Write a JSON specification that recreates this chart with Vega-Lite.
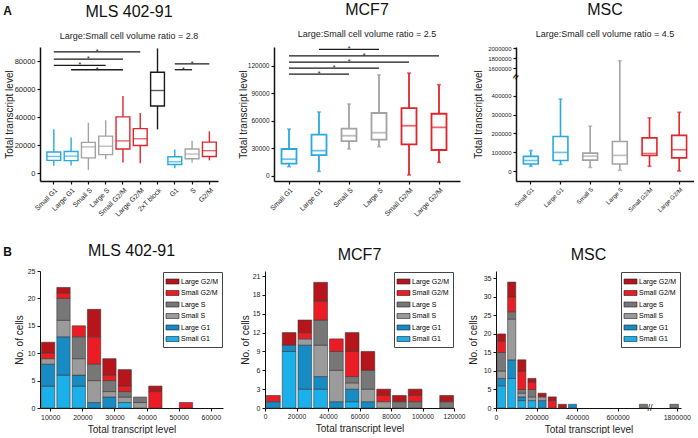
{
  "$schema": "https://vega.github.io/schema/vega-lite/v6.json",
  "padding": {"left": 3, "top": 2, "right": 0, "bottom": 0},
  "config": {
    "font": "Liberation Sans",
    "view": {"stroke": null},
    "axis": {"grid": false, "labelOverlap": false, "labelFlush": false, "labelSeparation": -60, "domainColor": "#111", "tickColor": "#111", "labelColor": "#222", "titleColor": "#222", "titleFontWeight": "normal", "labelFontSize": 7, "titleFontSize": 10, "tickSize": 3, "labelPadding": 2},
    "title": {"fontSize": 16, "fontWeight": "normal", "color": "#111", "subtitleFontSize": 9, "subtitleColor": "#222"},
    "bar": {"binSpacing": 2}
  },
  "datasets": {
    "box_mls": [
      {"cat": "Small G1", "phase": "G1", "min": 5300, "q1": 9200, "med": 12000, "q3": 15200, "max": 31300},
      {"cat": "Large G1", "phase": "G1", "min": 5500, "q1": 9000, "med": 12200, "q3": 15500, "max": 25500},
      {"cat": "Small S", "phase": "S", "min": 2400, "q1": 11000, "med": 18800, "q3": 22000, "max": 36000},
      {"cat": "Large S", "phase": "S", "min": 10000, "q1": 13300, "med": 19300, "q3": 26500, "max": 37800},
      {"cat": "Small G2/M", "phase": "G2/M", "min": 7700, "q1": 17300, "med": 23100, "q3": 40200, "max": 55000},
      {"cat": "Large  G2/M", "phase": "G2/M", "min": 7200, "q1": 19800, "med": 24600, "q3": 31800, "max": 42900},
      {"cat": "2xT block", "phase": "block", "min": 31300, "q1": 48000, "med": 59000, "q3": 72000, "max": 89000},
      {"cat": "G1", "phase": "G1", "min": 3600, "q1": 6300, "med": 8200, "q3": 11800, "max": 16900},
      {"cat": "S", "phase": "S", "min": 7700, "q1": 10400, "med": 13700, "q3": 17300, "max": 23100},
      {"cat": "G2/M", "phase": "G2/M", "min": 9200, "q1": 12000, "med": 16100, "q3": 22200, "max": 29900}
    ],
    "sig_mls": [
      {"from": "Small G1", "to": "Large  G2/M", "y": 86500, "star": "Small S", "half": true},
      {"from": "Small G1", "to": "Small G2/M", "y": 81400, "star": "Small S", "half": false},
      {"from": "Small G1", "to": "Large S", "y": 76900, "star": "Large G1", "half": true},
      {"from": "Large G1", "to": "Small G2/M", "y": 73800, "star": "Small S", "half": true},
      {"from": "G1", "to": "G2/M", "y": 78000, "star": "S", "half": false},
      {"from": "G1", "to": "S", "y": 73800, "star": "G1", "half": true}
    ],
    "box_mcf": [
      {"cat": "Small G1", "phase": "G1", "min": 9800, "q1": 13100, "med": 18000, "q3": 29100, "max": 50900},
      {"cat": "Large G1", "phase": "G1", "min": 4700, "q1": 22500, "med": 27300, "q3": 44700, "max": 69500},
      {"cat": "Small S", "phase": "S", "min": 29100, "q1": 37800, "med": 43600, "q3": 51300, "max": 78200},
      {"cat": "Large S", "phase": "S", "min": 31600, "q1": 39300, "med": 46900, "q3": 68400, "max": 110000},
      {"cat": "Small G2/M", "phase": "G2/M", "min": 700, "q1": 34200, "med": 54500, "q3": 73800, "max": 112000},
      {"cat": "Large G2/M", "phase": "G2/M", "min": 14500, "q1": 28000, "med": 52700, "q3": 67600, "max": 99300}
    ],
    "sig_mcf": [
      {"from": "Large G1", "to": "Large S", "y": 137700, "star": "Small S", "half": false},
      {"from": "Small G1", "to": "Large G2/M", "y": 130700, "star": "Small S", "half": true},
      {"from": "Small G1", "to": "Small G2/M", "y": 124000, "star": "Small S", "half": false},
      {"from": "Small G1", "to": "Large S", "y": 117400, "star": "Large G1", "half": true},
      {"from": "Small G1", "to": "Small S", "y": 110800, "star": "Large G1", "half": false}
    ],
    "box_msc": [
      {"cat": "Small G1", "phase": "G1", "min": 24700, "q1": 37000, "med": 56000, "q3": 77500, "max": 109000},
      {"cat": "Large G1", "phase": "G1", "min": 35000, "q1": 56000, "med": 98700, "q3": 183000, "max": 382000},
      {"cat": "Small S", "phase": "S", "min": 19000, "q1": 58000, "med": 79000, "q3": 95000, "max": 238000},
      {"cat": "Large S", "phase": "S", "min": 3500, "q1": 37000, "med": 83000, "q3": 157000, "max": 1750000},
      {"cat": "Small G2/M", "phase": "G2/M", "min": 25000, "q1": 82000, "med": 93000, "q3": 176000, "max": 282000},
      {"cat": "Large G2/M", "phase": "G2/M", "min": 0, "q1": 70000, "med": 113000, "q3": 189000, "max": 312000}
    ],
    "hist_mls": [
      {"b0": 6800, "b1": 11570, "cat": "Small G1", "n": 4},
      {"b0": 6800, "b1": 11570, "cat": "Large G1", "n": 4},
      {"b0": 6800, "b1": 11570, "cat": "Small S", "n": 1},
      {"b0": 6800, "b1": 11570, "cat": "Small G2/M", "n": 1},
      {"b0": 6800, "b1": 11570, "cat": "Large G2/M", "n": 2},
      {"b0": 11570, "b1": 16340, "cat": "Small G1", "n": 6},
      {"b0": 11570, "b1": 16340, "cat": "Large G1", "n": 7},
      {"b0": 11570, "b1": 16340, "cat": "Small S", "n": 3},
      {"b0": 11570, "b1": 16340, "cat": "Large S", "n": 4},
      {"b0": 11570, "b1": 16340, "cat": "Small G2/M", "n": 1},
      {"b0": 11570, "b1": 16340, "cat": "Large G2/M", "n": 1},
      {"b0": 16340, "b1": 21110, "cat": "Small G1", "n": 4},
      {"b0": 16340, "b1": 21110, "cat": "Large G1", "n": 2},
      {"b0": 16340, "b1": 21110, "cat": "Small S", "n": 3},
      {"b0": 16340, "b1": 21110, "cat": "Large S", "n": 4},
      {"b0": 16340, "b1": 21110, "cat": "Small G2/M", "n": 2},
      {"b0": 21110, "b1": 25880, "cat": "Large G1", "n": 1},
      {"b0": 21110, "b1": 25880, "cat": "Small S", "n": 4},
      {"b0": 21110, "b1": 25880, "cat": "Large S", "n": 3},
      {"b0": 21110, "b1": 25880, "cat": "Small G2/M", "n": 5},
      {"b0": 21110, "b1": 25880, "cat": "Large G2/M", "n": 5},
      {"b0": 25880, "b1": 30650, "cat": "Large G1", "n": 2},
      {"b0": 25880, "b1": 30650, "cat": "Small S", "n": 1},
      {"b0": 25880, "b1": 30650, "cat": "Large S", "n": 2},
      {"b0": 25880, "b1": 30650, "cat": "Small G2/M", "n": 1},
      {"b0": 25880, "b1": 30650, "cat": "Large G2/M", "n": 3},
      {"b0": 30650, "b1": 35420, "cat": "Small G1", "n": 1},
      {"b0": 30650, "b1": 35420, "cat": "Small S", "n": 1},
      {"b0": 30650, "b1": 35420, "cat": "Large S", "n": 1},
      {"b0": 30650, "b1": 35420, "cat": "Small G2/M", "n": 1},
      {"b0": 30650, "b1": 35420, "cat": "Large G2/M", "n": 3},
      {"b0": 35420, "b1": 40190, "cat": "Small S", "n": 1},
      {"b0": 35420, "b1": 40190, "cat": "Large S", "n": 1},
      {"b0": 40190, "b1": 44960, "cat": "Small G2/M", "n": 3},
      {"b0": 40190, "b1": 44960, "cat": "Large G2/M", "n": 1},
      {"b0": 49730, "b1": 54500, "cat": "Small G2/M", "n": 1}
    ],
    "hist_mcf": [
      {"b0": 0, "b1": 10000, "cat": "Large G1", "n": 1},
      {"b0": 0, "b1": 10000, "cat": "Small G2/M", "n": 1},
      {"b0": 10000, "b1": 20000, "cat": "Small G1", "n": 9},
      {"b0": 10000, "b1": 20000, "cat": "Large G1", "n": 1},
      {"b0": 10000, "b1": 20000, "cat": "Large G2/M", "n": 2},
      {"b0": 20000, "b1": 30000, "cat": "Small G1", "n": 3},
      {"b0": 20000, "b1": 30000, "cat": "Large G1", "n": 7},
      {"b0": 20000, "b1": 30000, "cat": "Small S", "n": 1},
      {"b0": 20000, "b1": 30000, "cat": "Small G2/M", "n": 1},
      {"b0": 20000, "b1": 30000, "cat": "Large G2/M", "n": 2},
      {"b0": 30000, "b1": 40000, "cat": "Small G1", "n": 3},
      {"b0": 30000, "b1": 40000, "cat": "Large G1", "n": 2},
      {"b0": 30000, "b1": 40000, "cat": "Small S", "n": 5},
      {"b0": 30000, "b1": 40000, "cat": "Large S", "n": 4},
      {"b0": 30000, "b1": 40000, "cat": "Small G2/M", "n": 3},
      {"b0": 30000, "b1": 40000, "cat": "Large G2/M", "n": 3},
      {"b0": 40000, "b1": 50000, "cat": "Large G1", "n": 1},
      {"b0": 40000, "b1": 50000, "cat": "Small S", "n": 5},
      {"b0": 40000, "b1": 50000, "cat": "Large S", "n": 3},
      {"b0": 40000, "b1": 50000, "cat": "Small G2/M", "n": 2},
      {"b0": 50000, "b1": 60000, "cat": "Small G1", "n": 1},
      {"b0": 50000, "b1": 60000, "cat": "Large G1", "n": 2},
      {"b0": 50000, "b1": 60000, "cat": "Small S", "n": 1},
      {"b0": 50000, "b1": 60000, "cat": "Large S", "n": 1},
      {"b0": 50000, "b1": 60000, "cat": "Small G2/M", "n": 4},
      {"b0": 50000, "b1": 60000, "cat": "Large G2/M", "n": 3},
      {"b0": 60000, "b1": 70000, "cat": "Large G1", "n": 1},
      {"b0": 60000, "b1": 70000, "cat": "Small S", "n": 2},
      {"b0": 60000, "b1": 70000, "cat": "Large S", "n": 3},
      {"b0": 60000, "b1": 70000, "cat": "Large G2/M", "n": 3},
      {"b0": 70000, "b1": 80000, "cat": "Small S", "n": 1},
      {"b0": 70000, "b1": 80000, "cat": "Small G2/M", "n": 1},
      {"b0": 70000, "b1": 80000, "cat": "Large G2/M", "n": 1},
      {"b0": 80000, "b1": 90000, "cat": "Large S", "n": 1},
      {"b0": 80000, "b1": 90000, "cat": "Large G2/M", "n": 1},
      {"b0": 90000, "b1": 100000, "cat": "Large S", "n": 1},
      {"b0": 90000, "b1": 100000, "cat": "Small G2/M", "n": 1},
      {"b0": 90000, "b1": 100000, "cat": "Large G2/M", "n": 1},
      {"b0": 110000, "b1": 120000, "cat": "Large S", "n": 1},
      {"b0": 110000, "b1": 120000, "cat": "Large G2/M", "n": 1}
    ],
    "hist_msc": [
      {"b0": 0, "b1": 50000, "cat": "Small G1", "n": 6},
      {"b0": 0, "b1": 50000, "cat": "Large G1", "n": 2},
      {"b0": 0, "b1": 50000, "cat": "Small S", "n": 2},
      {"b0": 0, "b1": 50000, "cat": "Large S", "n": 5},
      {"b0": 0, "b1": 50000, "cat": "Small G2/M", "n": 3},
      {"b0": 0, "b1": 50000, "cat": "Large G2/M", "n": 2},
      {"b0": 50000, "b1": 100000, "cat": "Small G1", "n": 8},
      {"b0": 50000, "b1": 100000, "cat": "Large G1", "n": 5},
      {"b0": 50000, "b1": 100000, "cat": "Small S", "n": 11},
      {"b0": 50000, "b1": 100000, "cat": "Large S", "n": 2},
      {"b0": 50000, "b1": 100000, "cat": "Small G2/M", "n": 4},
      {"b0": 50000, "b1": 100000, "cat": "Large G2/M", "n": 4},
      {"b0": 100000, "b1": 150000, "cat": "Small G1", "n": 2},
      {"b0": 100000, "b1": 150000, "cat": "Large G1", "n": 1},
      {"b0": 100000, "b1": 150000, "cat": "Small S", "n": 1},
      {"b0": 100000, "b1": 150000, "cat": "Large S", "n": 1},
      {"b0": 100000, "b1": 150000, "cat": "Small G2/M", "n": 5},
      {"b0": 100000, "b1": 150000, "cat": "Large G2/M", "n": 3},
      {"b0": 150000, "b1": 200000, "cat": "Small G1", "n": 2},
      {"b0": 150000, "b1": 200000, "cat": "Small S", "n": 1},
      {"b0": 150000, "b1": 200000, "cat": "Large S", "n": 2},
      {"b0": 150000, "b1": 200000, "cat": "Small G2/M", "n": 2},
      {"b0": 150000, "b1": 200000, "cat": "Large G2/M", "n": 1},
      {"b0": 200000, "b1": 250000, "cat": "Large G1", "n": 2},
      {"b0": 200000, "b1": 250000, "cat": "Small S", "n": 1},
      {"b0": 200000, "b1": 250000, "cat": "Large G2/M", "n": 1},
      {"b0": 250000, "b1": 300000, "cat": "Small G2/M", "n": 2},
      {"b0": 250000, "b1": 300000, "cat": "Large G2/M", "n": 1},
      {"b0": 300000, "b1": 350000, "cat": "Large G2/M", "n": 1},
      {"b0": 350000, "b1": 400000, "cat": "Large G1", "n": 1},
      {"b0": 700000, "b1": 750000, "cat": "Large S", "n": 1},
      {"b0": 1760000, "b1": 1810000, "cat": "Large S", "n": 1}
    ]
  },
  "vconcat": [
    {
      "title": {"text": "A", "orient": "left", "anchor": "end", "angle": 0, "align": "right", "baseline": "top", "fontSize": 12, "fontWeight": "bold", "offset": -16.7, "dy": 4, "frame": "bounds"},
      "bounds": "flush",
      "spacing": 56,
      "resolve": {"scale": {"x": "independent", "y": "independent", "color": "independent", "stroke": "independent"}},
      "hconcat": [
        {
          "width": 178, "height": 134,
          "title": {"text": "MLS 402-91", "subtitle": "Large:Small cell volume ratio = 2.8", "offset": 6, "subtitlePadding": 12},
          "layer": [
            {"data": {"name": "box_mls"}, "mark": {"type": "rule", "strokeWidth": 1.4},
             "encoding": {
               "x": {"field": "cat", "type": "nominal", "sort": null, "scale": {"domain": ["Small G1", "Large G1", "Small S", "Large S", "Small G2/M", "Large  G2/M", "2xT block", "G1", "S", "G2/M"], "paddingInner": 0, "paddingOuter": 0.15, "align": 1}, "axis": {"title": null, "labelAngle": -45, "labelFontSize": 7, "domainWidth": 1.5, "tickWidth": 1.2}},
               "y": {"field": "min", "type": "quantitative", "scale": {"domain": [-5500, 90000], "nice": false, "zero": false}, "axis": {"values": [0, 20000, 40000, 60000, 80000], "labelOverlap": false, "format": "d", "title": "Total transcript level", "titleX": -26, "labelFontSize": 7.5, "domainWidth": 1.5, "tickWidth": 1.2}},
               "y2": {"field": "max"},
               "color": {"field": "phase", "type": "nominal", "scale": {"domain": ["G1", "S", "G2/M", "block"], "range": ["#2aa9e0", "#a3a3a3", "#e1252d", "#1a1a1a"]}, "legend": null}
             }},
            {"data": {"name": "box_mls"}, "mark": {"type": "bar", "fill": "white", "strokeWidth": 1.4, "width": {"band": 0.8}},
             "encoding": {
               "x": {"field": "cat", "type": "nominal", "sort": null},
               "y": {"field": "q1", "type": "quantitative", "axis": {"values": [0, 20000, 40000, 60000, 80000], "labelOverlap": false, "format": "d", "title": "Total transcript level", "titleX": -26, "labelFontSize": 7.5, "domainWidth": 1.5, "tickWidth": 1.2}},
               "y2": {"field": "q3"},
               "stroke": {"field": "phase", "type": "nominal", "scale": {"domain": ["G1", "S", "G2/M", "block"], "range": ["#2aa9e0", "#a3a3a3", "#e1252d", "#1a1a1a"]}, "legend": null}
             }},
            {"data": {"name": "box_mls"}, "mark": {"type": "tick", "thickness": 1.4, "size": 14},
             "encoding": {
               "x": {"field": "cat", "type": "nominal", "sort": null},
               "y": {"field": "med", "type": "quantitative", "axis": {"values": [0, 20000, 40000, 60000, 80000], "labelOverlap": false, "format": "d", "title": "Total transcript level", "titleX": -26, "labelFontSize": 7.5, "domainWidth": 1.5, "tickWidth": 1.2}},
               "color": {"field": "phase", "type": "nominal", "legend": null}
             }},
            {"data": {"name": "sig_mls"}, "mark": {"type": "rule", "strokeWidth": 1.3, "color": "#1a1a1a"},
             "encoding": {
               "x": {"field": "from", "type": "nominal", "sort": null},
               "x2": {"field": "to"},
               "y": {"field": "y", "type": "quantitative", "axis": {"values": [0, 20000, 40000, 60000, 80000], "labelOverlap": false, "format": "d", "title": "Total transcript level", "titleX": -26, "labelFontSize": 7.5, "domainWidth": 1.5, "tickWidth": 1.2}}
             }},
            {"data": {"name": "sig_mls"}, "transform": [{"filter": "!datum.half"}], "mark": {"type": "text", "text": "*", "fontSize": 7, "baseline": "middle", "color": "#1a1a1a"},
             "encoding": {
               "x": {"field": "star", "type": "nominal", "sort": null},
               "y": {"field": "y", "type": "quantitative", "axis": {"values": [0, 20000, 40000, 60000, 80000], "labelOverlap": false, "format": "d", "title": "Total transcript level", "titleX": -26, "labelFontSize": 7.5, "domainWidth": 1.5, "tickWidth": 1.2}}
             }},
            {"data": {"name": "sig_mls"}, "transform": [{"filter": "datum.half"}], "mark": {"type": "text", "text": "*", "fontSize": 7, "baseline": "middle", "color": "#1a1a1a"},
             "encoding": {
               "x": {"field": "star", "type": "nominal", "sort": null, "bandPosition": 1},
               "y": {"field": "y", "type": "quantitative", "axis": {"values": [0, 20000, 40000, 60000, 80000], "labelOverlap": false, "format": "d", "title": "Total transcript level", "titleX": -26, "labelFontSize": 7.5, "domainWidth": 1.5, "tickWidth": 1.2}}
             }}
          ]
        },
        {
          "width": 186, "height": 134,
          "title": {"text": "MCF7", "subtitle": "Large:Small cell volume ratio = 2.5", "offset": 6, "subtitlePadding": 12},
          "layer": [
            {"data": {"name": "box_mcf"}, "mark": {"type": "rule", "strokeWidth": 1.8},
             "encoding": {
               "x": {"field": "cat", "type": "nominal", "sort": null, "scale": {"domain": ["Small G1", "Large G1", "Small S", "Large S", "Small G2/M", "Large G2/M"], "paddingInner": 0, "paddingOuter": 0.1, "align": 0}, "axis": {"title": null, "labelAngle": -45, "labelFontSize": 7, "domainWidth": 1.5, "tickWidth": 1.2}},
               "y": {"field": "min", "type": "quantitative", "scale": {"domain": [-5800, 140400], "nice": false, "zero": false}, "axis": {"values": [0, 30000, 60000, 90000, 120000], "labelOverlap": false, "format": "d", "title": "Total transcript level", "titleX": -26, "labelFontSize": 6.5, "domainWidth": 1.5, "tickWidth": 1.2}},
               "y2": {"field": "max"},
               "color": {"field": "phase", "type": "nominal", "scale": {"domain": ["G1", "S", "G2/M"], "range": ["#2aa9e0", "#a3a3a3", "#e1252d"]}, "legend": null}
             }},
            {"data": {"name": "box_mcf"}, "mark": {"type": "tick", "thickness": 1.6, "size": 4},
             "encoding": {"x": {"field": "cat", "type": "nominal", "sort": null}, "y": {"field": "min", "type": "quantitative", "axis": {"values": [0, 30000, 60000, 90000, 120000], "labelOverlap": false, "format": "d", "title": "Total transcript level", "titleX": -26, "labelFontSize": 6.5, "domainWidth": 1.5, "tickWidth": 1.2}}, "color": {"field": "phase", "type": "nominal", "legend": null}}},
            {"data": {"name": "box_mcf"}, "mark": {"type": "tick", "thickness": 1.6, "size": 4},
             "encoding": {"x": {"field": "cat", "type": "nominal", "sort": null}, "y": {"field": "max", "type": "quantitative", "axis": {"values": [0, 30000, 60000, 90000, 120000], "labelOverlap": false, "format": "d", "title": "Total transcript level", "titleX": -26, "labelFontSize": 6.5, "domainWidth": 1.5, "tickWidth": 1.2}}, "color": {"field": "phase", "type": "nominal", "legend": null}}},
            {"data": {"name": "box_mcf"}, "mark": {"type": "bar", "fill": "white", "strokeWidth": 1.8, "width": {"band": 0.5}},
             "encoding": {
               "x": {"field": "cat", "type": "nominal", "sort": null},
               "y": {"field": "q1", "type": "quantitative", "axis": {"values": [0, 30000, 60000, 90000, 120000], "labelOverlap": false, "format": "d", "title": "Total transcript level", "titleX": -26, "labelFontSize": 6.5, "domainWidth": 1.5, "tickWidth": 1.2}},
               "y2": {"field": "q3"},
               "stroke": {"field": "phase", "type": "nominal", "scale": {"domain": ["G1", "S", "G2/M"], "range": ["#2aa9e0", "#a3a3a3", "#e1252d"]}, "legend": null}
             }},
            {"data": {"name": "box_mcf"}, "mark": {"type": "tick", "thickness": 1.8, "size": 15},
             "encoding": {"x": {"field": "cat", "type": "nominal", "sort": null}, "y": {"field": "med", "type": "quantitative", "axis": {"values": [0, 30000, 60000, 90000, 120000], "labelOverlap": false, "format": "d", "title": "Total transcript level", "titleX": -26, "labelFontSize": 6.5, "domainWidth": 1.5, "tickWidth": 1.2}}, "color": {"field": "phase", "type": "nominal", "legend": null}}},
            {"data": {"name": "sig_mcf"}, "mark": {"type": "rule", "strokeWidth": 1.3, "color": "#1a1a1a"},
             "encoding": {"x": {"field": "from", "type": "nominal", "sort": null}, "x2": {"field": "to"}, "y": {"field": "y", "type": "quantitative", "axis": {"values": [0, 30000, 60000, 90000, 120000], "labelOverlap": false, "format": "d", "title": "Total transcript level", "titleX": -26, "labelFontSize": 6.5, "domainWidth": 1.5, "tickWidth": 1.2}}}},
            {"data": {"name": "sig_mcf"}, "transform": [{"filter": "!datum.half"}], "mark": {"type": "text", "text": "*", "fontSize": 7, "baseline": "middle", "color": "#1a1a1a"},
             "encoding": {"x": {"field": "star", "type": "nominal", "sort": null}, "y": {"field": "y", "type": "quantitative", "axis": {"values": [0, 30000, 60000, 90000, 120000], "labelOverlap": false, "format": "d", "title": "Total transcript level", "titleX": -26, "labelFontSize": 6.5, "domainWidth": 1.5, "tickWidth": 1.2}}}},
            {"data": {"name": "sig_mcf"}, "transform": [{"filter": "datum.half"}], "mark": {"type": "text", "text": "*", "fontSize": 7, "baseline": "middle", "color": "#1a1a1a"},
             "encoding": {"x": {"field": "star", "type": "nominal", "sort": null, "bandPosition": 1}, "y": {"field": "y", "type": "quantitative", "axis": {"values": [0, 30000, 60000, 90000, 120000], "labelOverlap": false, "format": "d", "title": "Total transcript level", "titleX": -26, "labelFontSize": 6.5, "domainWidth": 1.5, "tickWidth": 1.2}}}}
          ]
        },
        {
          "width": 178, "height": 134,
          "title": {"text": "MSC", "subtitle": "Large:Small cell volume ratio = 4.5", "offset": 6, "subtitlePadding": 12},
          "layer": [
            {"data": {"name": "box_msc"}, "mark": {"type": "rule", "strokeWidth": 1.6},
             "encoding": {
               "x": {"field": "cat", "type": "nominal", "sort": null, "scale": {"domain": ["Small G1", "Large G1", "Small S", "Large S", "Small G2/M", "Large G2/M"], "paddingInner": 0, "paddingOuter": 0}, "axis": {"title": null, "labelAngle": -45, "labelFontSize": 6, "domainWidth": 1.5, "tickWidth": 1.2}},
               "y": {"field": "min", "type": "quantitative", "scale": {"domain": [-53000, 480000, 1500000, 2026000], "range": [134, 33.6, 26.3, 0], "nice": false, "zero": false}, "axis": {"values": [0, 100000, 200000, 300000, 400000, 1600000, 1800000, 2000000], "labelOverlap": false, "format": "d", "title": "Total transcript level", "titleX": -33, "labelFontSize": 6, "domainWidth": 1.5, "tickWidth": 1.2}},
               "y2": {"field": "max"},
               "color": {"field": "phase", "type": "nominal", "scale": {"domain": ["G1", "S", "G2/M"], "range": ["#2aa9e0", "#a3a3a3", "#e1252d"]}, "legend": null}
             }},
            {"data": {"name": "box_msc"}, "mark": {"type": "tick", "thickness": 1.6, "size": 4},
             "encoding": {"x": {"field": "cat", "type": "nominal", "sort": null}, "y": {"field": "min", "type": "quantitative", "axis": {"values": [0, 100000, 200000, 300000, 400000, 1600000, 1800000, 2000000], "labelOverlap": false, "format": "d", "title": "Total transcript level", "titleX": -33, "labelFontSize": 6, "domainWidth": 1.5, "tickWidth": 1.2}}, "color": {"field": "phase", "type": "nominal", "legend": null}}},
            {"data": {"name": "box_msc"}, "mark": {"type": "tick", "thickness": 1.6, "size": 4},
             "encoding": {"x": {"field": "cat", "type": "nominal", "sort": null}, "y": {"field": "max", "type": "quantitative", "axis": {"values": [0, 100000, 200000, 300000, 400000, 1600000, 1800000, 2000000], "labelOverlap": false, "format": "d", "title": "Total transcript level", "titleX": -33, "labelFontSize": 6, "domainWidth": 1.5, "tickWidth": 1.2}}, "color": {"field": "phase", "type": "nominal", "legend": null}}},
            {"data": {"name": "box_msc"}, "mark": {"type": "bar", "fill": "white", "strokeWidth": 1.6, "width": {"band": 0.5}},
             "encoding": {
               "x": {"field": "cat", "type": "nominal", "sort": null},
               "y": {"field": "q1", "type": "quantitative", "axis": {"values": [0, 100000, 200000, 300000, 400000, 1600000, 1800000, 2000000], "labelOverlap": false, "format": "d", "title": "Total transcript level", "titleX": -33, "labelFontSize": 6, "domainWidth": 1.5, "tickWidth": 1.2}},
               "y2": {"field": "q3"},
               "stroke": {"field": "phase", "type": "nominal", "scale": {"domain": ["G1", "S", "G2/M"], "range": ["#2aa9e0", "#a3a3a3", "#e1252d"]}, "legend": null}
             }},
            {"data": {"name": "box_msc"}, "mark": {"type": "tick", "thickness": 1.6, "size": 15},
             "encoding": {"x": {"field": "cat", "type": "nominal", "sort": null}, "y": {"field": "med", "type": "quantitative", "axis": {"values": [0, 100000, 200000, 300000, 400000, 1600000, 1800000, 2000000], "labelOverlap": false, "format": "d", "title": "Total transcript level", "titleX": -33, "labelFontSize": 6, "domainWidth": 1.5, "tickWidth": 1.2}}, "color": {"field": "phase", "type": "nominal", "legend": null}}},
            {"data": {"values": [{"v": 1000000}]}, "mark": {"type": "text", "text": "≈", "fontSize": 10, "fontWeight": "bold", "baseline": "middle", "angle": -60, "color": "#111"},
             "encoding": {"x": {"datum": "Small G1", "type": "nominal", "bandPosition": 0}, "y": {"field": "v", "type": "quantitative", "axis": {"values": [0, 100000, 200000, 300000, 400000, 1600000, 1800000, 2000000], "labelOverlap": false, "format": "d", "title": "Total transcript level", "titleX": -33, "labelFontSize": 6, "domainWidth": 1.5, "tickWidth": 1.2}}}}
          ]
        }
      ]
    },
    {
      "title": {"text": "B", "orient": "left", "anchor": "end", "angle": 0, "align": "right", "baseline": "top", "fontSize": 12, "fontWeight": "bold", "offset": -6.7, "dy": 4, "frame": "bounds"},
      "bounds": "flush",
      "spacing": 42,
      "resolve": {"scale": {"x": "independent", "y": "independent", "color": "independent"}, "legend": {"color": "independent"}},
      "hconcat": [
        {
          "width": 183, "height": 137,
          "title": {"text": "MLS 402-91", "offset": 8},
          "data": {"name": "hist_mls"},
          "transform": [{"calculate": "indexof(['Small G1','Large G1','Small S','Large S','Small G2/M','Large G2/M'], datum.cat)", "as": "k"}],
          "mark": {"type": "bar", "stroke": "#3a3a3a", "strokeWidth": 0.6},
          "encoding": {
            "x": {"field": "b0", "type": "quantitative", "bin": "binned", "scale": {"domain": [6800, 63800], "nice": false, "zero": false}, "axis": {"values": [10000, 20000, 30000, 40000, 50000, 60000], "labelFlush": false, "format": "d", "title": "Total transcript level", "titlePadding": 4}},
            "x2": {"field": "b1"},
            "y": {"field": "n", "type": "quantitative", "stack": "zero", "scale": {"domain": [0, 25], "nice": false}, "axis": {"values": [0, 5, 10, 15, 20, 25], "title": "No. of cells", "titleX": -16}},
            "color": {"field": "cat", "type": "nominal", "scale": {"domain": ["Small G1", "Large G1", "Small S", "Large S", "Small G2/M", "Large G2/M"], "range": ["#1bb0ea", "#178bc4", "#9b9b9b", "#777777", "#ec1c24", "#b5151b"]}, "legend": {"values": ["Large G2/M", "Small G2/M", "Large S", "Small S", "Large G1", "Small G1"], "orient": "top-right", "title": null, "offset": 1, "labelFontSize": 7, "symbolType": "M-1.3,-0.5H1.3V0.5H-1.3Z", "symbolSize": 100, "symbolStrokeColor": "#222", "symbolStrokeWidth": 0.6, "strokeColor": "#444", "fillColor": "white", "padding": 4, "rowPadding": 1.5, "labelOffset": 3}},
            "order": {"field": "k", "type": "quantitative"}
          }
        },
        {
          "width": 189, "height": 137,
          "title": {"text": "MCF7", "offset": 8},
          "data": {"name": "hist_mcf"},
          "transform": [{"calculate": "indexof(['Small G1','Large G1','Small S','Large S','Small G2/M','Large G2/M'], datum.cat)", "as": "k"}],
          "mark": {"type": "bar", "stroke": "#3a3a3a", "strokeWidth": 0.6},
          "encoding": {
            "x": {"field": "b0", "type": "quantitative", "bin": "binned", "scale": {"domain": [0, 120000], "nice": false, "zero": false}, "axis": {"values": [0, 20000, 40000, 60000, 80000, 100000, 120000], "labelFlush": false, "format": "d", "labelFontSize": 6.6, "title": "Total transcript level", "titlePadding": 4}},
            "x2": {"field": "b1"},
            "y": {"field": "n", "type": "quantitative", "stack": "zero", "scale": {"domain": [0, 21.8], "nice": false}, "axis": {"values": [0, 3, 6, 9, 12, 15, 18, 21], "title": "No. of cells", "titleX": -15}},
            "color": {"field": "cat", "type": "nominal", "scale": {"domain": ["Small G1", "Large G1", "Small S", "Large S", "Small G2/M", "Large G2/M"], "range": ["#1bb0ea", "#178bc4", "#9b9b9b", "#777777", "#ec1c24", "#b5151b"]}, "legend": {"values": ["Large G2/M", "Small G2/M", "Large S", "Small S", "Large G1", "Small G1"], "orient": "top-right", "title": null, "offset": 1, "labelFontSize": 7, "symbolType": "M-1.3,-0.5H1.3V0.5H-1.3Z", "symbolSize": 100, "symbolStrokeColor": "#222", "symbolStrokeWidth": 0.6, "strokeColor": "#444", "fillColor": "white", "padding": 4, "rowPadding": 1.5, "labelOffset": 3}},
            "order": {"field": "k", "type": "quantitative"}
          }
        },
        {
          "width": 185, "height": 137,
          "title": {"text": "MSC", "offset": 8},
          "layer": [
            {
              "data": {"name": "hist_msc"},
              "transform": [{"calculate": "indexof(['Small G1','Large G1','Small S','Large S','Small G2/M','Large G2/M'], datum.cat)", "as": "k"}],
              "mark": {"type": "bar", "stroke": "#3a3a3a", "strokeWidth": 0.6},
              "encoding": {
                "x": {"field": "b0", "type": "quantitative", "bin": "binned", "scale": {"domain": [0, 760000, 1720000, 1820000], "range": [0, 154, 164, 185], "nice": false, "zero": false}, "axis": {"values": [0, 200000, 400000, 600000, 1800000], "labelFlush": false, "format": "d", "title": "Total transcript level", "titlePadding": 4}},
                "x2": {"field": "b1"},
                "y": {"field": "n", "type": "quantitative", "stack": "zero", "scale": {"domain": [0, 37], "nice": false}, "axis": {"values": [0, 5, 10, 15, 20, 25, 30, 35], "labelOverlap": false, "title": "No. of cells", "titleX": -18}},
                "color": {"field": "cat", "type": "nominal", "scale": {"domain": ["Small G1", "Large G1", "Small S", "Large S", "Small G2/M", "Large G2/M"], "range": ["#1bb0ea", "#178bc4", "#9b9b9b", "#777777", "#ec1c24", "#b5151b"]}, "legend": {"values": ["Large G2/M", "Small G2/M", "Large S", "Small S", "Large G1", "Small G1"], "orient": "top-right", "title": null, "offset": 1, "labelFontSize": 7, "symbolType": "M-1.3,-0.5H1.3V0.5H-1.3Z", "symbolSize": 100, "symbolStrokeColor": "#222", "symbolStrokeWidth": 0.6, "strokeColor": "#444", "fillColor": "white", "padding": 4, "rowPadding": 1.5, "labelOffset": 3}},
                "order": {"field": "k", "type": "quantitative"}
              }
            },
            {
              "data": {"values": [{"v": 765000, "n": 0}]},
              "mark": {"type": "text", "text": "//", "fontSize": 9, "baseline": "middle", "color": "#111"},
              "encoding": {"x": {"field": "v", "type": "quantitative", "axis": {"values": [0, 200000, 400000, 600000, 1800000], "labelFlush": false, "format": "d", "title": "Total transcript level", "titlePadding": 4}}, "y": {"field": "n", "type": "quantitative", "axis": {"values": [0, 5, 10, 15, 20, 25, 30, 35], "labelOverlap": false, "title": "No. of cells", "titleX": -18}}}
            }
          ]
        }
      ]
    }
  ],
  "spacing": 24
}
